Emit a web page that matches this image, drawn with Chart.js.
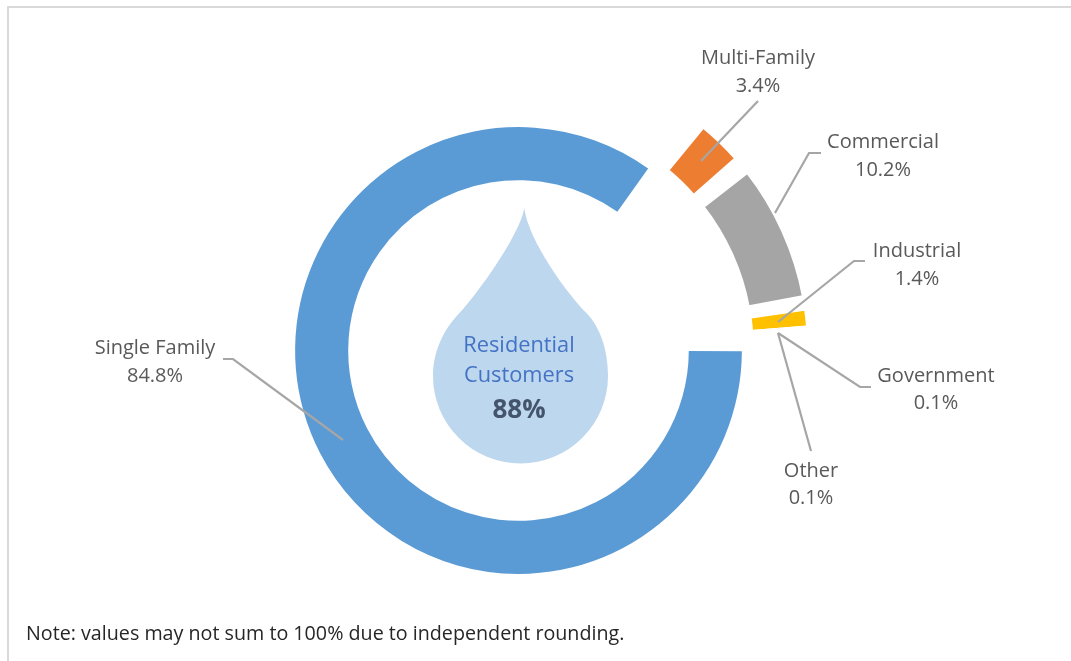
<!DOCTYPE html>
<html>
<head>
<meta charset="utf-8">
<style>html,body{margin:0;padding:0;background:#fff;overflow:hidden}canvas{display:block}</style>
<script src="https://cdn.jsdelivr.net/npm/chart.js@4/dist/chart.umd.min.js"></script>
</head>
<body>
<canvas id="c" width="1071" height="661"></canvas>
<script>
// Data
const categories = ["Single Family", "Multi-Family", "Commercial", "Industrial", "Government", "Other"];
const shares = [84.8, 3.4, 10.2, 1.4, 0.1, 0.1];
const tickLabels = ["84.8%", "3.4%", "10.2%", "1.4%", "0.1%", "0.1%"];
const centerTitle = ["Residential", "Customers"];
const centerValue = "88%";
const noteText = "Note: values may not sum to 100% due to independent rounding.";

// Exploded ring: empty slices separating Multi-Family|Commercial and Commercial|Industrial
const ringGaps = [1.25, 0.86];
const sliceLabels = ["Single Family", "Multi-Family", "", "Commercial", "", "Industrial", "Government", "Other"];
const restOfMain = 100 - shares[0];
const mainRing = [shares[0], 0, restOfMain, 0, 0, 0, 0, 0];
const explodedRing = [0, shares[1], ringGaps[0], shares[2], ringGaps[1], shares[3], shares[4], shares[5]];

const T = "rgba(0,0,0,0)";
const mainColors = ["#5b9bd5", T, T, T, T, T, T, T];
const explodedColors = [T, "#ed7d31", T, "#a5a5a5", T, "#ffc000", "#4472c4", "#70ad47"];
const explodedBorders = [0, 4, 0, 4, 0, 4, 4, 4];

// Annotation layout
const FONT = '"Open Sans", "Noto Sans", sans-serif';
const labelLayout = [
  { x: 155, y: 348, ly: 376, line: [[343,440],[233,359],[223,359]] },
  { x: 758, y: 58,  ly: 86,  line: [[701,161],[758,101]] },
  { x: 883, y: 142, ly: 170, line: [[775,213],[809,153],[821,153]] },
  { x: 917, y: 251, ly: 279, line: [[778,322],[854,261],[865,261]] },
  { x: 936, y: 376, ly: 403, line: [[778,333],[860,387],[871,387]] },
  { x: 811, y: 471, ly: 498, line: [[778,333],[811,451]] }
];

const annotations = {
  id: "annotations",
  beforeDraw(chart) {
    const ctx = chart.ctx;
    ctx.save();
    ctx.fillStyle = "#fff";
    ctx.fillRect(0, 0, chart.width, chart.height);
    ctx.fillStyle = "#d9d9d9";
    ctx.fillRect(7, 6, chart.width - 7, 2);
    ctx.fillRect(7, 6, 2, chart.height - 6);
    // water drop
    ctx.fillStyle = "#bdd7ee";
    ctx.beginPath();
    ctx.moveTo(524.3, 208);
    ctx.bezierCurveTo(528, 240, 568, 295, 586.7, 313.3);
    ctx.bezierCurveTo(600, 327, 608, 350, 608, 376);
    ctx.arc(520.5, 376, 87.5, 0, Math.PI, false);
    ctx.bezierCurveTo(433, 352, 443, 332, 455, 318);
    ctx.bezierCurveTo(475, 298, 520, 235, 524.3, 208);
    ctx.closePath();
    ctx.fill();
    ctx.restore();
  },
  afterDraw(chart) {
    const ctx = chart.ctx;
    ctx.save();
    ctx.strokeStyle = "#a6a6a6";
    ctx.lineWidth = 2.2;
    labelLayout.forEach(l => {
      ctx.beginPath();
      l.line.forEach((p, i) => i ? ctx.lineTo(p[0], p[1]) : ctx.moveTo(p[0], p[1]));
      ctx.stroke();
    });
    ctx.textAlign = "center";
    ctx.textBaseline = "middle";
    ctx.fillStyle = "#595959";
    ctx.font = "20px " + FONT;
    labelLayout.forEach((l, i) => {
      ctx.fillText(categories[i], l.x, l.y);
      ctx.fillText(tickLabels[i], l.x, l.ly);
    });
    ctx.fillStyle = "#4472c4";
    ctx.font = "21.8px " + FONT;
    ctx.fillText(centerTitle[0], 519, 346);
    ctx.fillText(centerTitle[1], 519, 376);
    ctx.fillStyle = "#44546a";
    ctx.font = "bold 26px " + FONT;
    ctx.fillText(centerValue, 519, 411);
    ctx.textAlign = "left";
    ctx.fillStyle = "#262626";
    ctx.font = "19.7px " + FONT;
    ctx.fillText(noteText, 26, 634);
    ctx.restore();
  }
};

new Chart(document.getElementById("c"), {
  type: "doughnut",
  data: {
    labels: sliceLabels,
    datasets: [
      { label: "Other sectors", data: explodedRing, backgroundColor: explodedColors, borderColor: "#fff",
        borderWidth: explodedBorders, borderJoinStyle: "miter", rotation: 39.5, circumference: 46.5, weight: 57 },
      { label: "Explosion gap", data: explodedRing, backgroundColor: T, borderWidth: 0, rotation: 39.5, circumference: 46.5, weight: 10 },
      { label: "Single Family", data: mainRing, backgroundColor: mainColors, borderWidth: 0, rotation: 90.2, weight: 53 }
    ]
  },
  options: {
    responsive: false,
    animation: false,
    events: [],
    cutout: "58.62%",
    layout: { padding: { top: 58, bottom: 18, left: 226, right: 260 } },
    plugins: { legend: { display: false }, tooltip: { enabled: false } }
  },
  plugins: [annotations]
});
</script>
</body>
</html>
